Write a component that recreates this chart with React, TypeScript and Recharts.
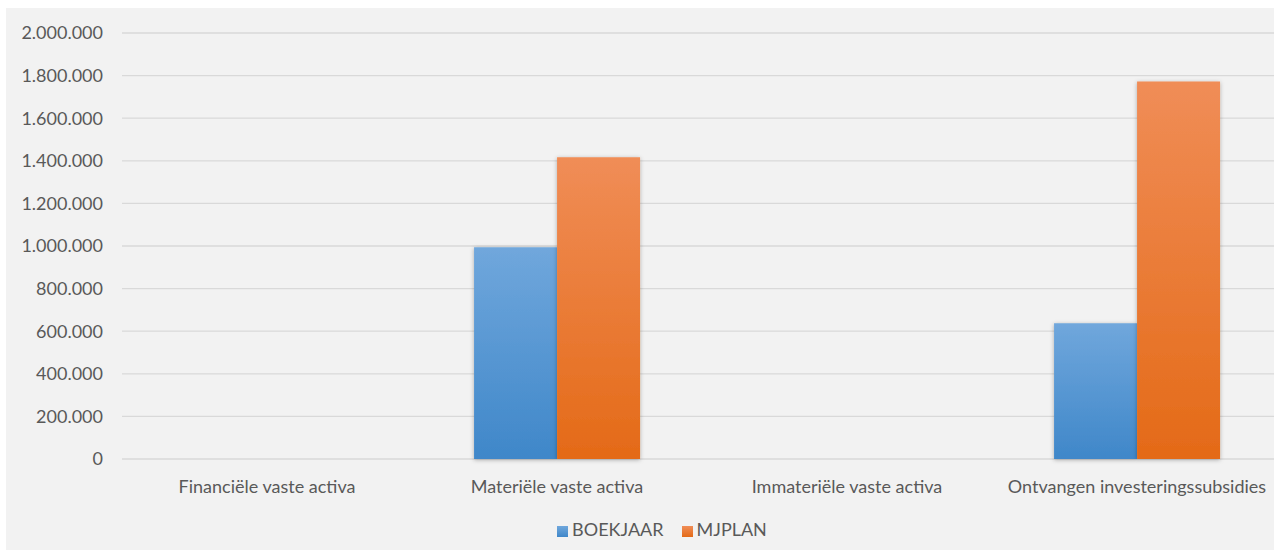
import { BarChart, Bar, XAxis, YAxis, CartesianGrid, Legend } from 'recharts';

const categories = ['Financiële vaste activa', 'Materiële vaste activa', 'Immateriële vaste activa', 'Ontvangen investeringssubsidies'];
const boekjaar = [0, 994000, 0, 637000];
const mjplan = [0, 1417000, 0, 1772000];
const yTicks = [0, 200000, 400000, 600000, 800000, 1000000, 1200000, 1400000, 1600000, 1800000, 2000000];

const data = categories.map((name, i) => ({ name, BOEKJAAR: boekjaar[i], MJPLAN: mjplan[i] }));

const fmt = (v: number) => v.toLocaleString('de-DE');
const font = 'Lato, "Open Sans", sans-serif';

function App() {
    return (
        <div style={{ position: 'fixed', left: 6, top: 8, width: 1268, height: 542, overflow: 'hidden', background: '#f2f2f2' }}>
            <BarChart width={1290} height={542} data={data} barGap={0} barCategoryGap="21.4%"
                margin={{ top: 25, right: 14, bottom: 0, left: 0 }}>
                <defs>
                    <linearGradient id="gBlue" x1="0" y1="0" x2="0" y2="1">
                        <stop offset="0%" stopColor="#70a7dc" />
                        <stop offset="100%" stopColor="#3f87c9" />
                    </linearGradient>
                    <linearGradient id="gOrange" x1="0" y1="0" x2="0" y2="1">
                        <stop offset="0%" stopColor="#f08d57" />
                        <stop offset="100%" stopColor="#e46a17" />
                    </linearGradient>
                    <filter id="shadow" x="-10%" y="-10%" width="120%" height="120%">
                        <feDropShadow dx="0" dy="1" stdDeviation="2" floodColor="#000" floodOpacity="0.3" />
                    </filter>
                </defs>
                <CartesianGrid vertical={false} stroke="#d9d9d9" strokeWidth={1.3} />
                <XAxis dataKey="name" axisLine={false} tickLine={false} tickSize={0} tickMargin={21}
                    tick={{ fill: '#595959', fontSize: 18, fontFamily: font }} interval={0} height={69} />
                <YAxis domain={[0, 2000000]} ticks={yTicks} tickFormatter={fmt} axisLine={false} tickLine={false}
                    tickSize={0} tickMargin={19} width={116} tick={{ fill: '#595959', fontSize: 18, fontFamily: font }} />
                <Legend iconType="square" iconSize={11} verticalAlign="bottom"
                    wrapperStyle={{ left: 545, width: 240, bottom: 10, fontFamily: font, fontSize: 18 }}
                    formatter={(v: string) => <span style={{ color: '#595959', marginRight: 8 }}>{v}</span>} />
                <Bar dataKey="BOEKJAAR" fill="url(#gBlue)" filter="url(#shadow)" isAnimationActive={false} />
                <Bar dataKey="MJPLAN" fill="url(#gOrange)" filter="url(#shadow)" isAnimationActive={false} />
            </BarChart>
        </div>
    );
}

export default App;
